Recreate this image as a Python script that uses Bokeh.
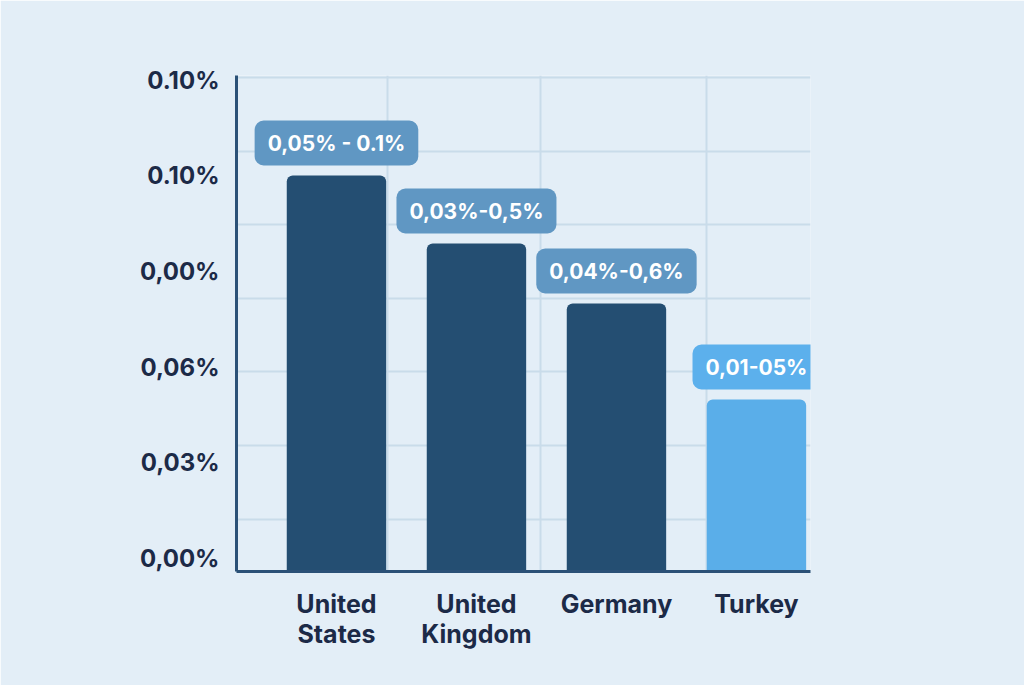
from bokeh.plotting import figure
from bokeh.models import Range1d, FixedTicker, ColumnDataSource, Label
from bokeh.embed import file_html
from bokeh.resources import INLINE

# chart data
countries = ["United\nStates", "United\nKingdom", "Germany", "Turkey"]
shares = [0.099, 0.082, 0.067, 0.043]
range_labels = ["0,05% - 0.1%", "0,03%-0,5%", "0,04%-0,6%", "0,01-05%"]
y_tick_labels = ["0,00%", "0,03%", "0,06%", "0,00%", "0.10%", "0.10%"]

BG = "#e3eef7"
DARK = "#1c2a47"
bar_colors = ["#244e72", "#244e72", "#244e72", "#5aaee9"]
box_colors = ["#6097c3", "#6097c3", "#6097c3", "#5cb0ec"]
FONT = "Inter"


def build():
    xs = list(range(len(countries)))
    src = ColumnDataSource(dict(x=xs, share=shares, bar_color=bar_colors))

    p = figure(
        width=1024, height=685,
        x_range=Range1d(-0.714, 3.386), y_range=Range1d(0, 0.124),
        output_backend="svg", toolbar_location=None,
        background_fill_color=BG, border_fill_color=BG,
        min_border_left=236, min_border_right=214,
        min_border_top=75, min_border_bottom=114,
    )
    p.outline_line_color = None

    p.vbar(x="x", top="share", bottom=0, width=0.71, source=src,
           fill_color="bar_color", line_color=None, border_radius=(6, 6, 0, 0))

    # range badges above each bar
    for x, top, txt, col in zip(xs, shares, range_labels, box_colors):
        p.add_layout(Label(
            x=x, y=top, text=txt, text_align="center", text_baseline="bottom",
            y_offset=10, text_color="white", text_font_size="21px",
            text_font=FONT, text_font_style="bold",
            background_fill_color=col, border_radius=9, padding=(13, 10),
        ))

    # grid
    p.xgrid.ticker = FixedTicker(ticks=[0.364, 1.457, 2.643])
    p.ygrid.ticker = FixedTicker(ticks=[round(0.1235 - k * 0.0184, 4) for k in range(7)])
    for g in (p.xgrid, p.ygrid):
        g.grid_line_color = "#c9dcea"
        g.grid_line_width = 2

    # y axis with the labels as printed
    y_pos = [round(0.0033 + k * 0.0239, 4) for k in range(len(y_tick_labels))]
    p.yaxis.ticker = FixedTicker(ticks=y_pos)
    p.yaxis.major_label_overrides = {t: s for t, s in zip(y_pos, y_tick_labels)}
    p.yaxis.major_label_text_font_size = "24px"
    p.yaxis.major_label_standoff = 11

    p.xaxis.ticker = FixedTicker(ticks=xs)
    p.xaxis.major_label_overrides = {i: c for i, c in zip(xs, countries)}
    p.xaxis.major_label_text_font_size = "25px"
    p.xaxis.major_label_text_line_height = 1.0
    p.xaxis.major_label_standoff = 11

    for ax in (p.xaxis, p.yaxis):
        ax.axis_line_color = "#2b5177"
        ax.axis_line_width = 3
        ax.major_tick_line_color = None
        ax.minor_tick_line_color = None
        ax.major_label_text_color = DARK
        ax.major_label_text_font = FONT
        ax.major_label_text_font_style = "bold"
    return p


p = build()
open("out.html", "w").write(file_html(p, INLINE))
